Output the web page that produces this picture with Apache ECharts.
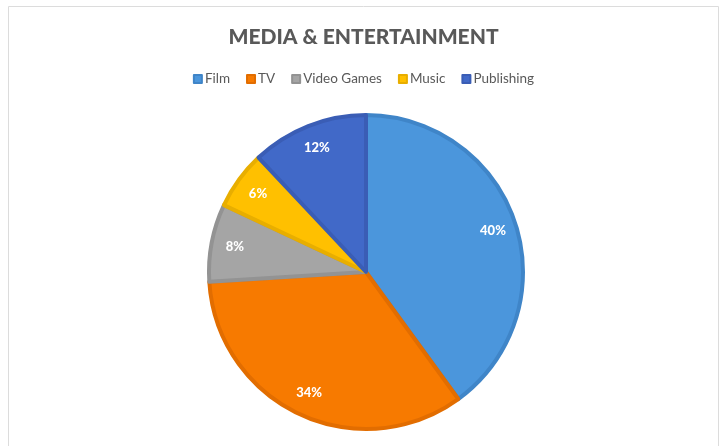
<!DOCTYPE html>
<html>
<head>
<meta charset="utf-8">
<script src="https://cdn.jsdelivr.net/npm/echarts@6/dist/echarts.min.js"></script>
<style>
  html, body { margin: 0; padding: 0; background: #ffffff; }
  #chart { width: 727px; height: 446px; }
</style>
</head>
<body>
<div id="chart"></div>
<script>
// Revenue share by segment
const categories = ['Film', 'TV', 'Video Games', 'Music', 'Publishing'];
const shares = [40, 34, 8, 6, 12];
const fillColors = ['#4b96dc', '#f77a00', '#a5a5a5', '#ffc000', '#4169c8'];
const edgeColors = ['#3f85c8', '#e26d00', '#939393', '#e8ae00', '#3a5db5'];

const chart = echarts.init(document.getElementById('chart'), null, { renderer: 'canvas' });

const pieData = categories.map((name, i) => ({
  name,
  value: shares[i],
  itemStyle: { color: fillColors[i], borderColor: edgeColors[i] }
}));

const center = [366, 272];

chart.setOption({
  animation: false,
  backgroundColor: '#ffffff',
  title: {
    text: 'MEDIA & ENTERTAINMENT',
    left: 'center',
    top: 22,
    textStyle: {
      fontFamily: 'Lato',
      fontWeight: 900,
      fontSize: 21,
      color: '#595959'
    }
  },
  legend: {
    data: categories,
    top: 67,
    left: 'center',
    icon: 'rect',
    itemWidth: 8,
    itemHeight: 8,
    itemGap: 16,
    textStyle: { fontFamily: 'Lato', fontSize: 13.5, color: '#595959', padding: [0, 0, 0, -2] }
  },
  graphic: [{
    type: 'rect',
    shape: { x: 8.5, y: 6.5, width: 710, height: 460 },
    style: { fill: 'none', stroke: '#dcdcdc', lineWidth: 1 },
    silent: true
  }],
  series: [
    {
      type: 'pie',
      center,
      radius: [0, 157],
      startAngle: 90,
      clockwise: true,
      data: pieData,
      itemStyle: { borderWidth: 4, borderJoin: 'round' },
      label: { show: false },
      labelLine: { show: false },
      emphasis: { disabled: true }
    },
    {
      // transparent ring that carries the percentage labels near the rim
      type: 'pie',
      center,
      radius: [104, 157],
      startAngle: 90,
      clockwise: true,
      silent: true,
      data: categories.map((name, i) => ({ name, value: shares[i] })),
      itemStyle: { color: 'rgba(0,0,0,0)', borderWidth: 0 },
      label: {
        show: true,
        position: 'inside',
        formatter: p => p.value + '%',
        fontFamily: 'Lato',
        fontWeight: 900,
        fontSize: 13,
        color: '#ffffff'
      },
      labelLine: { show: false },
      emphasis: { disabled: true }
    }
  ]
});
</script>
</body>
</html>
